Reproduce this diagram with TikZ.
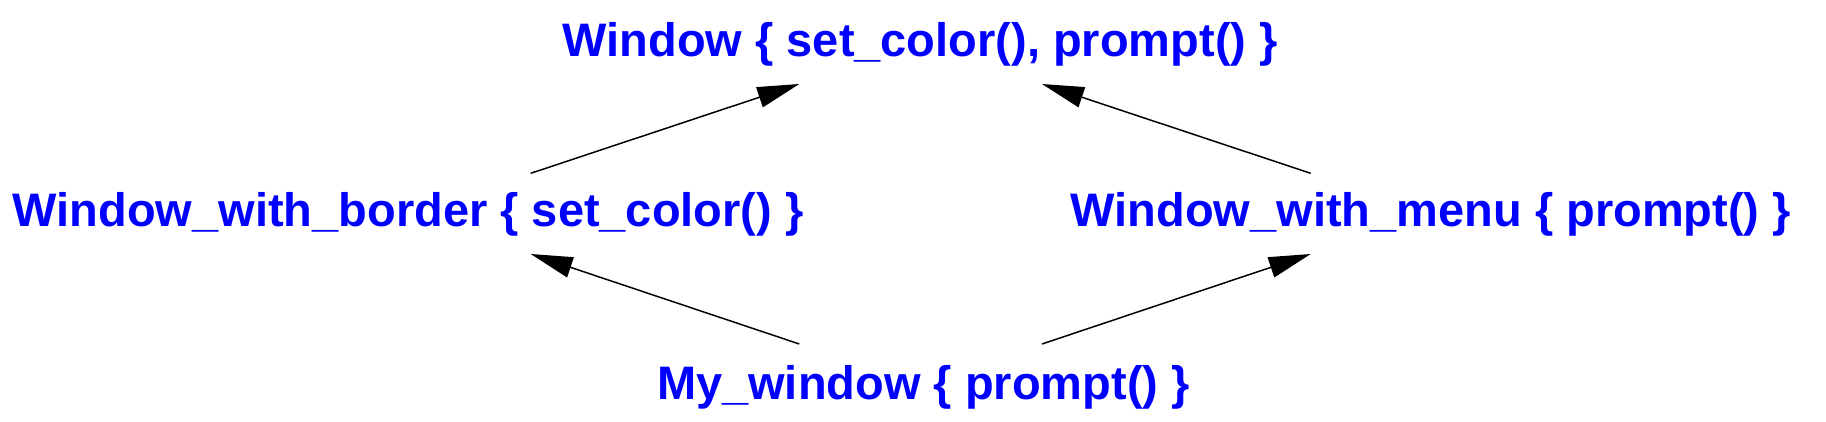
\documentclass[tikz,border=0pt]{standalone}
\usepackage{fontspec}
\setmainfont{Liberation Sans}
\usetikzlibrary{arrows.meta,calc}
\definecolor{lblblue}{RGB}{0,0,255}
\begin{document}
\begin{tikzpicture}[x=1pt,y=1pt,
  lbl/.style={inner sep=0pt,outer sep=0pt,anchor=base west,text=lblblue,
    font=\fontsize{47}{56}\selectfont\bfseries},
  arr/.style={line width=1.5pt,-{Triangle[length=42pt,width=21pt]}}]
\useasboundingbox (0,0) rectangle (1826,421);
\node[lbl] (top) at (562.7,364.3) {Window \{ set\_color(), prompt() \}};
\node[lbl] (wwb) at (12.7,194.3) {Window\_with\_border \{ set\_color() \}};
\node[lbl] (wwm) at (1070.7,194.3) {Window\_with\_menu \{ prompt() \}};
\node[lbl] (myw) at (657,22) {My\_window \{ prompt() \}};
\draw[arr] ($(wwb.base west)+(518,53.4)$) -- ($(top.base west)+(236.6,-27.3)$);
\draw[arr] ($(wwm.base west)+(240,53.4)$) -- ($(top.base west)+(479.3,-27.3)$);
\draw[arr] ($(myw.base west)+(142.3,55)$) -- ($(wwb.base west)+(518,-27.3)$);
\draw[arr] ($(myw.base west)+(385,55)$) -- ($(wwm.base west)+(240,-27.3)$);
\end{tikzpicture}
\end{document}
